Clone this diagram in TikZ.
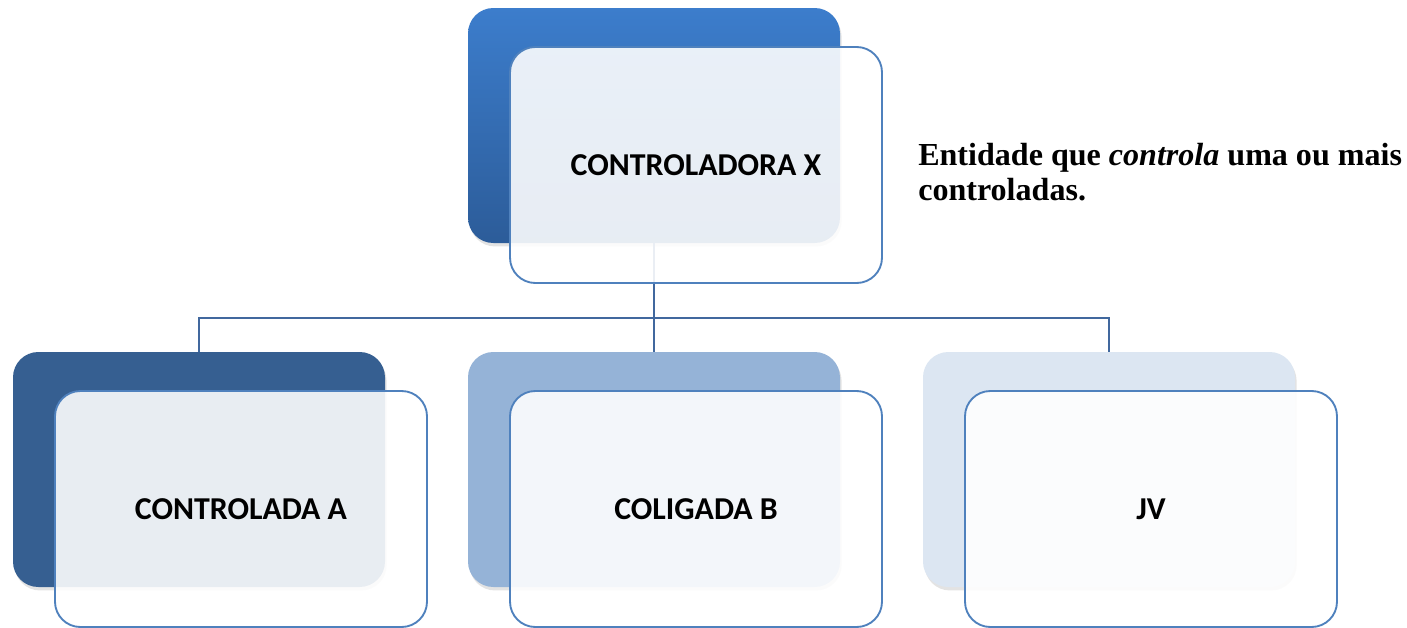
\documentclass[tikz,border=0pt]{standalone}
\usepackage{fontspec}
\newfontfamily\boxfont{Carlito}
\newfontfamily\notefont{Liberation Serif}
\usetikzlibrary{shadows}
\definecolor{topA}{HTML}{3C7DCC}
\definecolor{topB}{HTML}{2C5C99}
\definecolor{darkblue}{HTML}{365F91}
\definecolor{midblue}{HTML}{95B3D7}
\definecolor{paleblue}{HTML}{DCE6F2}
\definecolor{edge}{HTML}{4F81BD}
\definecolor{linkc}{HTML}{41689E}
\tikzset{
  x=0.75pt, y=-0.75pt,
  backbox/.style={rectangle, rounded corners=19pt, minimum width=279pt, minimum height=176.25pt,
    inner sep=0pt, draw=none,
    drop shadow={opacity=0.22, shadow xshift=1.2pt, shadow yshift=-2.6pt}},
  frontbox/.style={rectangle, rounded corners=19pt, minimum width=279pt, minimum height=177pt,
    inner sep=0pt, draw=edge, line width=1.4pt, fill=white, fill opacity=0.89, text opacity=1,
    font=\boxfont\bfseries\fontsize{23.9}{28}\selectfont},
  link/.style={draw=linkc, line width=1.5pt}
}
\begin{document}
\begin{tikzpicture}
\useasboundingbox (0,0) rectangle (1407,628);
% back boxes
\node[backbox, top color=topA, bottom color=topB] (tb) at (654,125.5) {};
\node[backbox, fill=darkblue] (ab) at (199,469.5) {};
\node[backbox, fill=midblue] (bb) at (654,469.5) {};
\node[backbox, fill=paleblue] (jb) at (1109,469.5) {};
% connectors
\coordinate (bus) at (654,318);
\draw[link] (tb.south) -- (bus);
\draw[link] (ab.north) |- (bus) -| (jb.north);
\draw[link] (bus) -- (bb.north);
% front boxes
\node[frontbox] (tf) at (696,165) {CONTROLADORA X};
\node[frontbox] (af) at (241,509) {CONTROLADA A};
\node[frontbox] (bf) at (696,509) {COLIGADA B};
\node[frontbox] (jf) at (1151,509) {JV};
% note
\node[anchor=north west, inner sep=0pt, align=left,
  font=\notefont\bfseries\fontsize{24.05}{26.5}\selectfont] (note) at (918,143)
  {Entidade que \textit{controla} uma ou mais\\controladas.};
\end{tikzpicture}
\end{document}
